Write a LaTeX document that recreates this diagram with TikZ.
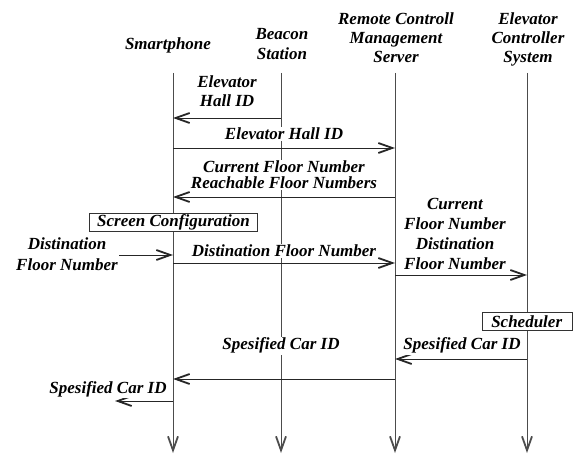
\documentclass[tikz,border=0pt]{standalone}
\usepackage{fontspec}
\setmainfont{Liberation Serif}
\usetikzlibrary{arrows.meta}

\begin{document}
\begin{tikzpicture}[x=1pt,y=-1pt,>={Straight Barb[length=14pt,width=10pt,line width=1.8pt]},
  txt/.style={font=\bfseries\itshape\fontsize{17}{#1}\selectfont,align=center,inner sep=1pt},
  txt/.default=20,
  lbl/.style={txt=#1,fill=white},
  lbl/.default=20,
  boxed/.style={txt,draw=black!80,fill=white,minimum height=18pt,inner sep=0pt},
  life/.style={->,black!70,line width=0.9pt},
  msg/.style={->,black!85,line width=0.9pt}]
  \useasboundingbox (0,0) rectangle (576,454);
  \foreach \n/\x in {sp/173,bs/281,rs/395,ec/527}{
    \coordinate (\n) at (\x,73);
    \coordinate (\n end) at (\x,453);
    \draw[life] (\n) -- (\n end);
  }
  \node[txt,anchor=base] (sphead) at (168,50) {Smartphone};
  \node[txt] (bshead) at (282,44) {Beacon\\Station};
  \node[txt=19] (rshead) at (396,38) {Remote Controll\\Management\\Server};
  \node[txt=19] (echead) at (528,39.5) {Elevator\\Controller\\System};

  \coordinate (usr) at (113,255);
  \coordinate (out) at (115,401);
  \draw[msg] (bs |- 0,118) -- (sp |- 0,118);
  \draw[msg] (sp |- 0,148) -- (rs |- 0,148);
  \draw[msg] (rs |- 0,197) -- (sp |- 0,197);
  \draw[msg] (usr) -- (sp |- usr);
  \draw[msg] (sp |- 0,263) -- (rs |- 0,263);
  \draw[msg] (rs |- 0,275) -- (ec |- 0,275);
  \draw[msg] (ec |- 0,359) -- (rs |- 0,359);
  \draw[msg] (rs |- 0,379) -- (sp |- 0,379);
  \draw[msg] (sp |- out) -- (out);

  \node[lbl=19] (hallid) at (227,91.5) {Elevator\\Hall ID};
  \node[lbl,anchor=base] (hallid2) at (284,140) {Elevator Hall ID};
  \node[lbl=16] (floors) at (284,175.2) {Current Floor Number\\Reachable Floor Numbers};
  \node[boxed,minimum width=168pt] (screen) at (173.5,222.5) {Screen Configuration};
  \node[lbl=21] (dest) at (67,254.5) {Distination\\Floor Number};
  \node[lbl,anchor=base] (dest2) at (284,256.7) {Distination Floor Number};
  \node[lbl] (request) at (455,234) {Current\\Floor Number\\Distination\\Floor Number};
  \node[boxed,minimum width=90pt] (sched) at (526.7,321.7) {Scheduler};
  \node[lbl,anchor=base] (carid) at (462,350) {Spesified Car ID};
  \node[lbl,anchor=base] (carid2) at (281,350) {Spesified Car ID};
  \node[lbl,anchor=base] (carid3) at (108,393.3) {Spesified Car ID};
\end{tikzpicture}
\end{document}
